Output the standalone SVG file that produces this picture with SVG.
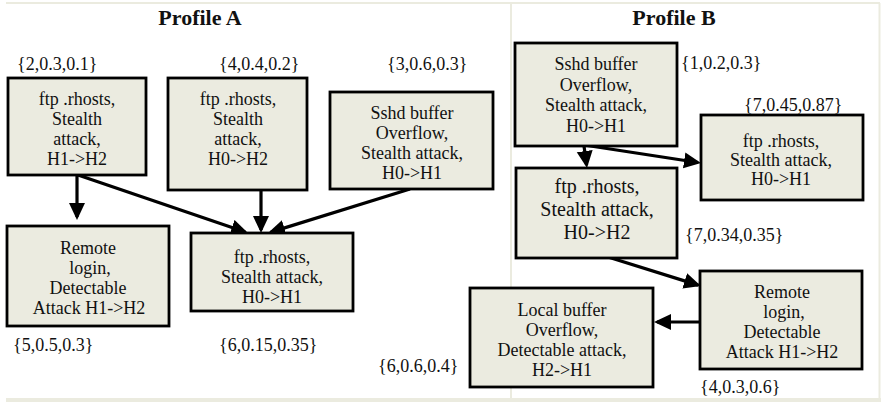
<svg xmlns="http://www.w3.org/2000/svg" width="881" height="402" viewBox="0 0 881 402">
<defs>
<style>
text{font-family:"Liberation Serif","Times New Roman",serif;font-size:18px;fill:#111}
.t{font-size:22px;font-weight:bold;text-anchor:middle}
.c{text-anchor:middle}
.big{font-size:20px}
.box{fill:#ebebe0;stroke:#000;stroke-width:2.8}
.frame{fill:none;stroke:#ebebdf;stroke-width:2}
.edge{fill:none;stroke:#000;stroke-width:3.2;marker-end:url(#ah)}
</style>
<marker id="ah" markerUnits="userSpaceOnUse" markerWidth="18" markerHeight="18" refX="14" refY="8" orient="auto">
<path d="M0,0 L17,8 L0,16 z" fill="#000"/>
</marker>
</defs>
<rect width="881" height="402" fill="#fff"/>
<g id="frame">
<line class="frame" x1="6" y1="3" x2="880" y2="3"/>
<line class="frame" x1="879.5" y1="3" x2="879.5" y2="399"/>
<line class="frame" x1="511" y1="3" x2="511" y2="399"/>
<rect x="6" y="398" width="875" height="4" fill="#ebebdf"/>
<text class="t" x="200" y="25">Profile A</text>
<text class="t" x="674" y="25">Profile B</text>
</g>
<g id="connectors">
<line class="edge" x1="77" y1="175" x2="77" y2="217"/>
<line class="edge" x1="78" y1="175" x2="245.2" y2="232"/>
<line class="edge" x1="261" y1="190" x2="261" y2="230"/>
<line class="edge" x1="410" y1="189" x2="270.9" y2="232.1"/>
<line class="edge" x1="584" y1="146" x2="586.6" y2="165"/>
<line class="edge" x1="584" y1="145" x2="698" y2="162.5"/>
<line class="edge" x1="608" y1="257" x2="698.1" y2="285.1"/>
<line class="edge" x1="700" y1="322" x2="657" y2="322"/>
</g>
<g id="a1">
<rect class="box" x="8" y="78" width="138" height="97"/>
<text class="c" x="77" y="105">ftp .rhosts,</text>
<text class="c" x="77" y="125">Stealth</text>
<text class="c" x="77" y="145">attack,</text>
<text class="c" x="77" y="165">H1-&gt;H2</text>
<text x="17" y="70">{2,0.3,0.1}</text>
</g>
<g id="a2">
<rect class="box" x="168" y="78" width="139" height="112"/>
<text class="c" x="238" y="105">ftp .rhosts,</text>
<text class="c" x="238" y="125">Stealth</text>
<text class="c" x="238" y="145">attack,</text>
<text class="c" x="238" y="165">H0-&gt;H2</text>
<text x="219" y="70">{4,0.4,0.2}</text>
</g>
<g id="a3">
<rect class="box" x="330" y="92" width="163" height="97"/>
<text class="c" x="412" y="119">Sshd buffer</text>
<text class="c" x="412" y="139">Overflow,</text>
<text class="c" x="412" y="159">Stealth attack,</text>
<text class="c" x="412" y="179">H0-&gt;H1</text>
<text x="387" y="70">{3,0.6,0.3}</text>
</g>
<g id="a4">
<rect class="box" x="7" y="226" width="162" height="100"/>
<text class="c" x="88" y="254">Remote</text>
<text class="c" x="90" y="274">login,</text>
<text class="c" x="88" y="294">Detectable</text>
<text class="c" x="89" y="314">Attack H1-&gt;H2</text>
<text x="13" y="351">{5,0.5,0.3}</text>
</g>
<g id="a5">
<rect class="box" x="191" y="233" width="162" height="78"/>
<text class="c" x="272" y="263">ftp .rhosts,</text>
<text class="c" x="272" y="283">Stealth attack,</text>
<text class="c" x="272" y="303">H0-&gt;H1</text>
<text x="219" y="351">{6,0.15,0.35}</text>
</g>
<g id="b1">
<rect class="box" x="515" y="43" width="162" height="103"/>
<text class="c" x="596" y="70">Sshd buffer</text>
<text class="c" x="596" y="91">Overflow,</text>
<text class="c" x="596" y="111">Stealth attack,</text>
<text class="c" x="596" y="132">H0-&gt;H1</text>
<text x="681" y="69">{1,0.2,0.3}</text>
</g>
<g id="b2">
<rect class="box" x="701" y="115" width="162" height="85"/>
<text class="c" x="781" y="147">ftp .rhosts,</text>
<text class="c" x="781" y="166">Stealth attack,</text>
<text class="c" x="781" y="185">H0-&gt;H1</text>
<text x="744" y="111">{7,0.45,0.87}</text>
</g>
<g id="b3">
<rect class="box" x="516" y="168" width="161" height="90"/>
<text class="c big" x="597" y="193">ftp .rhosts,</text>
<text class="c big" x="597" y="216">Stealth attack,</text>
<text class="c big" x="597" y="239">H0-&gt;H2</text>
<text x="685" y="241">{7,0.34,0.35}</text>
</g>
<g id="b4">
<rect class="box" x="700" y="271" width="162" height="98"/>
<text class="c" x="782" y="298">Remote</text>
<text class="c" x="784" y="318">login,</text>
<text class="c" x="782" y="338">Detectable</text>
<text class="c" x="782" y="358">Attack H1-&gt;H2</text>
<text x="700" y="393">{4,0.3,0.6}</text>
</g>
<g id="b5">
<rect class="box" x="470" y="288" width="183" height="99"/>
<text class="c" x="562" y="316">Local buffer</text>
<text class="c" x="562" y="336">Overflow,</text>
<text class="c" x="562" y="356">Detectable attack,</text>
<text class="c" x="562" y="376">H2-&gt;H1</text>
<text x="378" y="372">{6,0.6,0.4}</text>
</g>
</svg>
